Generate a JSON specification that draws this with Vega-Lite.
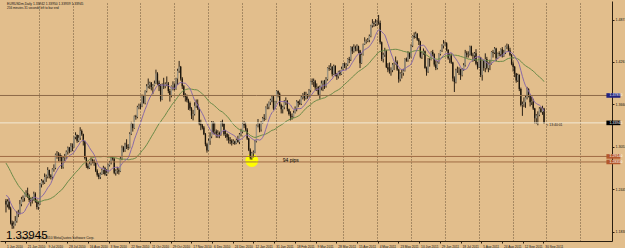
{
"$schema": "https://vega.github.io/schema/vega-lite/v6.json",
"width": 612, "height": 240, "autosize": "none",
"padding": {"left": 0, "top": 1, "right": 13, "bottom": 7},
"background": "#e2be8c",
"config": {"view": {"stroke": null}, "axis": {"labelFont": "Liberation Sans", "labelFontSize": 3.4, "labelColor": "#111111", "domainColor": "#2a1e10", "tickColor": "#2a1e10", "titleFontSize": 0}},
"resolve": {"axis": {"x": "independent"}},
"datasets": {"px": [
{"i":-34,"c":1.3640},{"i":-33,"c":1.3560},{"i":-32,"c":1.3500},{"i":-31,"c":1.3470},{"i":-30,"c":1.3440},{"i":-29,"c":1.3390},{"i":-28,"c":1.3290},{"i":-27,"c":1.3360},{"i":-26,"c":1.3370},{"i":-25,"c":1.3180},{"i":-24,"c":1.3210},{"i":-23,"c":1.3240},{"i":-22,"c":1.3300},{"i":-21,"c":1.3200},{"i":-20,"c":1.2990},{"i":-19,"c":1.2820},{"i":-18,"c":1.2630},{"i":-17,"c":1.2750},{"i":-16,"c":1.2790},{"i":-15,"c":1.2660},{"i":-14,"c":1.2630},{"i":-13,"c":1.2540},{"i":-12,"c":1.2380},{"i":-11,"c":1.2360},{"i":-10,"c":1.2230},{"i":-9,"c":1.2370},{"i":-8,"c":1.2530},{"i":-7,"c":1.2570},{"i":-6,"c":1.2370},{"i":-5,"c":1.2370},{"i":-4,"c":1.2200},{"i":-3,"c":1.2370},{"i":-2,"c":1.2270},{"i":-1,"c":1.2280},
{"i":0,"o":1.2280,"h":1.2305,"l":1.2112,"c":1.2225},
{"i":1,"o":1.2225,"h":1.2300,"l":1.2185,"c":1.2270},
{"i":2,"o":1.2270,"h":1.2315,"l":1.2150,"c":1.2170},
{"i":3,"o":1.2170,"h":1.2195,"l":1.1940,"c":1.1965},
{"i":4,"o":1.1965,"h":1.1995,"l":1.1876,"c":1.1920},
{"i":5,"o":1.1920,"h":1.1985,"l":1.1880,"c":1.1940},
{"i":6,"o":1.1940,"h":1.2060,"l":1.1925,"c":1.1990},
{"i":7,"o":1.1990,"h":1.2130,"l":1.1965,"c":1.2100},
{"i":8,"o":1.2100,"h":1.2150,"l":1.2045,"c":1.2110},
{"i":9,"o":1.2110,"h":1.2290,"l":1.2085,"c":1.2230},
{"i":10,"o":1.2230,"h":1.2335,"l":1.2200,"c":1.2300},
{"i":11,"o":1.2300,"h":1.2355,"l":1.2260,"c":1.2320},
{"i":12,"o":1.2320,"h":1.2395,"l":1.2270,"c":1.2385},
{"i":13,"o":1.2385,"h":1.2430,"l":1.2335,"c":1.2390},
{"i":14,"o":1.2390,"h":1.2467,"l":1.2320,"c":1.2345},
{"i":15,"o":1.2345,"h":1.2370,"l":1.2260,"c":1.2290},
{"i":16,"o":1.2290,"h":1.2320,"l":1.2200,"c":1.2300},
{"i":17,"o":1.2300,"h":1.2335,"l":1.2240,"c":1.2305},
{"i":18,"o":1.2305,"h":1.2410,"l":1.2280,"c":1.2380},
{"i":19,"o":1.2380,"h":1.2400,"l":1.2250,"c":1.2270},
{"i":20,"o":1.2270,"h":1.2300,"l":1.2155,"c":1.2190},
{"i":21,"o":1.2190,"h":1.2270,"l":1.2150,"c":1.2230},
{"i":22,"o":1.2230,"h":1.2535,"l":1.2220,"c":1.2515},
{"i":23,"o":1.2515,"h":1.2590,"l":1.2470,"c":1.2565},
{"i":24,"o":1.2565,"h":1.2580,"l":1.2510,"c":1.2540},
{"i":25,"o":1.2540,"h":1.2670,"l":1.2520,"c":1.2620},
{"i":26,"o":1.2620,"h":1.2655,"l":1.2550,"c":1.2625},
{"i":27,"o":1.2625,"h":1.2760,"l":1.2600,"c":1.2720},
{"i":28,"o":1.2720,"h":1.2725,"l":1.2600,"c":1.2640},
{"i":29,"o":1.2640,"h":1.2660,"l":1.2585,"c":1.2620},
{"i":30,"o":1.2620,"h":1.2745,"l":1.2580,"c":1.2730},
{"i":31,"o":1.2730,"h":1.2800,"l":1.2695,"c":1.2750},
{"i":32,"o":1.2750,"h":1.2955,"l":1.2730,"c":1.2940},
{"i":33,"o":1.2940,"h":1.2990,"l":1.2880,"c":1.2945},
{"i":34,"o":1.2945,"h":1.2975,"l":1.2845,"c":1.2935},
{"i":35,"o":1.2935,"h":1.2960,"l":1.2840,"c":1.2900},
{"i":36,"o":1.2900,"h":1.2930,"l":1.2735,"c":1.2760},
{"i":37,"o":1.2760,"h":1.2915,"l":1.2740,"c":1.2890},
{"i":38,"o":1.2890,"h":1.2950,"l":1.2850,"c":1.2900},
{"i":39,"o":1.2900,"h":1.3000,"l":1.2880,"c":1.2980},
{"i":40,"o":1.2980,"h":1.3055,"l":1.2940,"c":1.3040},
{"i":41,"o":1.3040,"h":1.3050,"l":1.2960,"c":1.2985},
{"i":42,"o":1.2985,"h":1.3105,"l":1.2975,"c":1.3060},
{"i":43,"o":1.3060,"h":1.3100,"l":1.2990,"c":1.3050},
{"i":44,"o":1.3050,"h":1.3200,"l":1.3040,"c":1.3190},
{"i":45,"o":1.3190,"h":1.3260,"l":1.3160,"c":1.3220},
{"i":46,"o":1.3220,"h":1.3230,"l":1.3110,"c":1.3140},
{"i":47,"o":1.3140,"h":1.3220,"l":1.3120,"c":1.3180},
{"i":48,"o":1.3180,"h":1.3333,"l":1.3150,"c":1.3280},
{"i":49,"o":1.3280,"h":1.3300,"l":1.3210,"c":1.3230},
{"i":50,"o":1.3230,"h":1.3240,"l":1.3070,"c":1.3130},
{"i":51,"o":1.3130,"h":1.3140,"l":1.2870,"c":1.2890},
{"i":52,"o":1.2890,"h":1.2905,"l":1.2750,"c":1.2780},
{"i":53,"o":1.2780,"h":1.2815,"l":1.2730,"c":1.2750},
{"i":54,"o":1.2750,"h":1.2840,"l":1.2735,"c":1.2810},
{"i":55,"o":1.2810,"h":1.2900,"l":1.2785,"c":1.2860},
{"i":56,"o":1.2860,"h":1.2880,"l":1.2815,"c":1.2840},
{"i":57,"o":1.2840,"h":1.2870,"l":1.2780,"c":1.2820},
{"i":58,"o":1.2820,"h":1.2830,"l":1.2690,"c":1.2710},
{"i":59,"o":1.2710,"h":1.2730,"l":1.2625,"c":1.2650},
{"i":60,"o":1.2650,"h":1.2675,"l":1.2588,"c":1.2620},
{"i":61,"o":1.2620,"h":1.2685,"l":1.2590,"c":1.2660},
{"i":62,"o":1.2660,"h":1.2740,"l":1.2650,"c":1.2720},
{"i":63,"o":1.2720,"h":1.2780,"l":1.2660,"c":1.2750},
{"i":64,"o":1.2750,"h":1.2765,"l":1.2640,"c":1.2660},
{"i":65,"o":1.2660,"h":1.2730,"l":1.2635,"c":1.2680},
{"i":66,"o":1.2680,"h":1.2810,"l":1.2670,"c":1.2790},
{"i":67,"o":1.2790,"h":1.2850,"l":1.2770,"c":1.2830},
{"i":68,"o":1.2830,"h":1.2920,"l":1.2800,"c":1.2890},
{"i":69,"o":1.2890,"h":1.2915,"l":1.2855,"c":1.2880},
{"i":70,"o":1.2880,"h":1.2890,"l":1.2660,"c":1.2680},
{"i":71,"o":1.2680,"h":1.2730,"l":1.2640,"c":1.2710},
{"i":72,"o":1.2710,"h":1.2765,"l":1.2665,"c":1.2715},
{"i":73,"o":1.2715,"h":1.2745,"l":1.2655,"c":1.2700},
{"i":74,"o":1.2700,"h":1.2905,"l":1.2690,"c":1.2880},
{"i":75,"o":1.2880,"h":1.3070,"l":1.2860,"c":1.3040},
{"i":76,"o":1.3040,"h":1.3060,"l":1.2975,"c":1.3000},
{"i":77,"o":1.3000,"h":1.3110,"l":1.2980,"c":1.3080},
{"i":78,"o":1.3080,"h":1.3160,"l":1.3020,"c":1.3050},
{"i":79,"o":1.3050,"h":1.3090,"l":1.3005,"c":1.3040},
{"i":80,"o":1.3040,"h":1.3260,"l":1.3030,"c":1.3240},
{"i":81,"o":1.3240,"h":1.3410,"l":1.3220,"c":1.3380},
{"i":82,"o":1.3380,"h":1.3390,"l":1.3270,"c":1.3320},
{"i":83,"o":1.3320,"h":1.3500,"l":1.3310,"c":1.3490},
{"i":84,"o":1.3490,"h":1.3510,"l":1.3440,"c":1.3480},
{"i":85,"o":1.3480,"h":1.3640,"l":1.3460,"c":1.3620},
{"i":86,"o":1.3620,"h":1.3670,"l":1.3590,"c":1.3640},
{"i":87,"o":1.3640,"h":1.3670,"l":1.3590,"c":1.3630},
{"i":88,"o":1.3630,"h":1.3800,"l":1.3620,"c":1.3790},
{"i":89,"o":1.3790,"h":1.3795,"l":1.3670,"c":1.3680},
{"i":90,"o":1.3680,"h":1.3860,"l":1.3660,"c":1.3850},
{"i":91,"o":1.3850,"h":1.3950,"l":1.3830,"c":1.3920},
{"i":92,"o":1.3920,"h":1.4030,"l":1.3890,"c":1.3940},
{"i":93,"o":1.3940,"h":1.3985,"l":1.3880,"c":1.3970},
{"i":94,"o":1.3970,"h":1.3980,"l":1.3860,"c":1.3910},
{"i":95,"o":1.3910,"h":1.3950,"l":1.3805,"c":1.3930},
{"i":96,"o":1.3930,"h":1.4000,"l":1.3920,"c":1.3960},
{"i":97,"o":1.3960,"h":1.4157,"l":1.3950,"c":1.4100},
{"i":98,"o":1.4100,"h":1.4120,"l":1.3940,"c":1.3970},
{"i":99,"o":1.3970,"h":1.4000,"l":1.3850,"c":1.3920},
{"i":100,"o":1.3920,"h":1.3950,"l":1.3700,"c":1.3730},
{"i":101,"o":1.3730,"h":1.3960,"l":1.3720,"c":1.3940},
{"i":102,"o":1.3940,"h":1.4040,"l":1.3880,"c":1.3920},
{"i":103,"o":1.3920,"h":1.3975,"l":1.3890,"c":1.3950},
{"i":104,"o":1.3950,"h":1.4060,"l":1.3920,"c":1.3960},
{"i":105,"o":1.3960,"h":1.3980,"l":1.3820,"c":1.3850},
{"i":106,"o":1.3850,"h":1.3880,"l":1.3700,"c":1.3780},
{"i":107,"o":1.3780,"h":1.3930,"l":1.3760,"c":1.3920},
{"i":108,"o":1.3920,"h":1.3990,"l":1.3860,"c":1.3940},
{"i":109,"o":1.3940,"h":1.3960,"l":1.3860,"c":1.3880},
{"i":110,"o":1.3880,"h":1.4040,"l":1.3870,"c":1.4030},
{"i":111,"o":1.4030,"h":1.4170,"l":1.3940,"c":1.4140},
{"i":112,"o":1.4140,"h":1.4282,"l":1.4110,"c":1.4200},
{"i":113,"o":1.4200,"h":1.4210,"l":1.4000,"c":1.4030},
{"i":114,"o":1.4030,"h":1.4050,"l":1.3880,"c":1.3920},
{"i":115,"o":1.3920,"h":1.3935,"l":1.3760,"c":1.3790},
{"i":116,"o":1.3790,"h":1.3820,"l":1.3700,"c":1.3770},
{"i":117,"o":1.3770,"h":1.3800,"l":1.3690,"c":1.3720},
{"i":118,"o":1.3720,"h":1.3740,"l":1.3580,"c":1.3680},
{"i":119,"o":1.3680,"h":1.3700,"l":1.3570,"c":1.3600},
{"i":120,"o":1.3600,"h":1.3620,"l":1.3450,"c":1.3500},
{"i":121,"o":1.3500,"h":1.3580,"l":1.3430,"c":1.3520},
{"i":122,"o":1.3520,"h":1.3690,"l":1.3500,"c":1.3640},
{"i":123,"o":1.3640,"h":1.3730,"l":1.3610,"c":1.3670},
{"i":124,"o":1.3670,"h":1.3730,"l":1.3580,"c":1.3600},
{"i":125,"o":1.3600,"h":1.3610,"l":1.3360,"c":1.3380},
{"i":126,"o":1.3380,"h":1.3440,"l":1.3290,"c":1.3360},
{"i":127,"o":1.3360,"h":1.3380,"l":1.3300,"c":1.3330},
{"i":128,"o":1.3330,"h":1.3350,"l":1.3220,"c":1.3230},
{"i":129,"o":1.3230,"h":1.3250,"l":1.3060,"c":1.3090},
{"i":130,"o":1.3090,"h":1.3110,"l":1.2969,"c":1.3000},
{"i":131,"o":1.3000,"h":1.3170,"l":1.2990,"c":1.3140},
{"i":132,"o":1.3140,"h":1.3260,"l":1.3080,"c":1.3200},
{"i":133,"o":1.3200,"h":1.3420,"l":1.3175,"c":1.3400},
{"i":134,"o":1.3400,"h":1.3420,"l":1.3230,"c":1.3260},
{"i":135,"o":1.3260,"h":1.3400,"l":1.3230,"c":1.3270},
{"i":136,"o":1.3270,"h":1.3300,"l":1.3180,"c":1.3240},
{"i":137,"o":1.3240,"h":1.3290,"l":1.3180,"c":1.3250},
{"i":138,"o":1.3250,"h":1.3270,"l":1.3175,"c":1.3230},
{"i":139,"o":1.3230,"h":1.3420,"l":1.3210,"c":1.3410},
{"i":140,"o":1.3410,"h":1.3440,"l":1.3340,"c":1.3380},
{"i":141,"o":1.3380,"h":1.3390,"l":1.3210,"c":1.3230},
{"i":142,"o":1.3230,"h":1.3290,"l":1.3180,"c":1.3235},
{"i":143,"o":1.3235,"h":1.3250,"l":1.3140,"c":1.3190},
{"i":144,"o":1.3190,"h":1.3230,"l":1.3100,"c":1.3150},
{"i":145,"o":1.3150,"h":1.3190,"l":1.3090,"c":1.3140},
{"i":146,"o":1.3140,"h":1.3160,"l":1.3070,"c":1.3110},
{"i":147,"o":1.3110,"h":1.3160,"l":1.3090,"c":1.3130},
{"i":148,"o":1.3130,"h":1.3140,"l":1.3080,"c":1.3100},
{"i":149,"o":1.3100,"h":1.3170,"l":1.3090,"c":1.3150},
{"i":150,"o":1.3150,"h":1.3210,"l":1.3110,"c":1.3120},
{"i":151,"o":1.3120,"h":1.3250,"l":1.3090,"c":1.3230},
{"i":152,"o":1.3230,"h":1.3310,"l":1.3200,"c":1.3270},
{"i":153,"o":1.3270,"h":1.3400,"l":1.3250,"c":1.3380},
{"i":154,"o":1.3380,"h":1.3420,"l":1.3320,"c":1.3360},
{"i":155,"o":1.3360,"h":1.3400,"l":1.3280,"c":1.3300},
{"i":156,"o":1.3300,"h":1.3320,"l":1.3150,"c":1.3170},
{"i":157,"o":1.3170,"h":1.3180,"l":1.2990,"c":1.3010},
{"i":158,"o":1.3010,"h":1.3030,"l":1.2870,"c":1.2900},
{"i":159,"o":1.2900,"h":1.2980,"l":1.2867,"c":1.2960},
{"i":160,"o":1.2960,"h":1.3000,"l":1.2900,"c":1.2970},
{"i":161,"o":1.2970,"h":1.3150,"l":1.2960,"c":1.3130},
{"i":162,"o":1.3130,"h":1.3370,"l":1.3115,"c":1.3360},
{"i":163,"o":1.3360,"h":1.3450,"l":1.3330,"c":1.3380},
{"i":164,"o":1.3380,"h":1.3390,"l":1.3260,"c":1.3300},
{"i":165,"o":1.3300,"h":1.3420,"l":1.3270,"c":1.3390},
{"i":166,"o":1.3390,"h":1.3480,"l":1.3380,"c":1.3460},
{"i":167,"o":1.3460,"h":1.3520,"l":1.3420,"c":1.3450},
{"i":168,"o":1.3450,"h":1.3630,"l":1.3440,"c":1.3620},
{"i":169,"o":1.3620,"h":1.3670,"l":1.3590,"c":1.3625},
{"i":170,"o":1.3625,"h":1.3700,"l":1.3590,"c":1.3690},
{"i":171,"o":1.3690,"h":1.3740,"l":1.3650,"c":1.3720},
{"i":172,"o":1.3720,"h":1.3790,"l":1.3690,"c":1.3770},
{"i":173,"o":1.3770,"h":1.3790,"l":1.3580,"c":1.3600},
{"i":174,"o":1.3600,"h":1.3710,"l":1.3590,"c":1.3700},
{"i":175,"o":1.3700,"h":1.3860,"l":1.3690,"c":1.3850},
{"i":176,"o":1.3850,"h":1.3860,"l":1.3760,"c":1.3810},
{"i":177,"o":1.3810,"h":1.3830,"l":1.3630,"c":1.3650},
{"i":178,"o":1.3650,"h":1.3670,"l":1.3530,"c":1.3590},
{"i":179,"o":1.3590,"h":1.3640,"l":1.3530,"c":1.3620},
{"i":180,"o":1.3620,"h":1.3720,"l":1.3590,"c":1.3690},
{"i":181,"o":1.3690,"h":1.3760,"l":1.3650,"c":1.3710},
{"i":182,"o":1.3710,"h":1.3720,"l":1.3560,"c":1.3590},
{"i":183,"o":1.3590,"h":1.3600,"l":1.3500,"c":1.3520},
{"i":184,"o":1.3520,"h":1.3560,"l":1.3430,"c":1.3490},
{"i":185,"o":1.3490,"h":1.3530,"l":1.3440,"c":1.3480},
{"i":186,"o":1.3480,"h":1.3570,"l":1.3470,"c":1.3540},
{"i":187,"o":1.3540,"h":1.3630,"l":1.3530,"c":1.3600},
{"i":188,"o":1.3600,"h":1.3720,"l":1.3560,"c":1.3700},
{"i":189,"o":1.3700,"h":1.3710,"l":1.3620,"c":1.3680},
{"i":190,"o":1.3680,"h":1.3730,"l":1.3650,"c":1.3670},
{"i":191,"o":1.3670,"h":1.3780,"l":1.3650,"c":1.3760},
{"i":192,"o":1.3760,"h":1.3820,"l":1.3730,"c":1.3800},
{"i":193,"o":1.3800,"h":1.3840,"l":1.3710,"c":1.3750},
{"i":194,"o":1.3750,"h":1.3840,"l":1.3730,"c":1.3800},
{"i":195,"o":1.3800,"h":1.3810,"l":1.3740,"c":1.3790},
{"i":196,"o":1.3790,"h":1.3880,"l":1.3760,"c":1.3860},
{"i":197,"o":1.3860,"h":1.4000,"l":1.3830,"c":1.3990},
{"i":198,"o":1.3990,"h":1.4030,"l":1.3940,"c":1.3980},
{"i":199,"o":1.3980,"h":1.4030,"l":1.3910,"c":1.3990},
{"i":200,"o":1.3990,"h":1.4010,"l":1.3860,"c":1.3900},
{"i":201,"o":1.3900,"h":1.3960,"l":1.3850,"c":1.3910},
{"i":202,"o":1.3910,"h":1.3920,"l":1.3780,"c":1.3800},
{"i":203,"o":1.3800,"h":1.3930,"l":1.3740,"c":1.3910},
{"i":204,"o":1.3910,"h":1.4000,"l":1.3860,"c":1.3960},
{"i":205,"o":1.3960,"h":1.4000,"l":1.3850,"c":1.3990},
{"i":206,"o":1.3990,"h":1.4010,"l":1.3880,"c":1.3920},
{"i":207,"o":1.3920,"h":1.4050,"l":1.3900,"c":1.4020},
{"i":208,"o":1.4020,"h":1.4190,"l":1.4000,"c":1.4180},
{"i":209,"o":1.4180,"h":1.4220,"l":1.4140,"c":1.4170},
{"i":210,"o":1.4170,"h":1.4250,"l":1.4150,"c":1.4200},
{"i":211,"o":1.4200,"h":1.4210,"l":1.4060,"c":1.4090},
{"i":212,"o":1.4090,"h":1.4230,"l":1.4080,"c":1.4210},
{"i":213,"o":1.4210,"h":1.4220,"l":1.4060,"c":1.4090},
{"i":214,"o":1.4090,"h":1.4110,"l":1.4010,"c":1.4060},
{"i":215,"o":1.4060,"h":1.4140,"l":1.4030,"c":1.4130},
{"i":216,"o":1.4130,"h":1.4150,"l":1.4070,"c":1.4090},
{"i":217,"o":1.4090,"h":1.4200,"l":1.4080,"c":1.4170},
{"i":218,"o":1.4170,"h":1.4250,"l":1.4140,"c":1.4240},
{"i":219,"o":1.4240,"h":1.4260,"l":1.4180,"c":1.4210},
{"i":220,"o":1.4210,"h":1.4250,"l":1.4150,"c":1.4230},
{"i":221,"o":1.4230,"h":1.4320,"l":1.4210,"c":1.4310},
{"i":222,"o":1.4310,"h":1.4340,"l":1.4250,"c":1.4300},
{"i":223,"o":1.4300,"h":1.4490,"l":1.4280,"c":1.4480},
{"i":224,"o":1.4480,"h":1.4490,"l":1.4380,"c":1.4420},
{"i":225,"o":1.4420,"h":1.4520,"l":1.4400,"c":1.4480},
{"i":226,"o":1.4480,"h":1.4500,"l":1.4420,"c":1.4460},
{"i":227,"o":1.4460,"h":1.4520,"l":1.4420,"c":1.4490},
{"i":228,"o":1.4490,"h":1.4500,"l":1.4390,"c":1.4430},
{"i":229,"o":1.4430,"h":1.4440,"l":1.4180,"c":1.4250},
{"i":230,"o":1.4250,"h":1.4390,"l":1.4240,"c":1.4370},
{"i":231,"o":1.4370,"h":1.4530,"l":1.4360,"c":1.4520},
{"i":232,"o":1.4520,"h":1.4620,"l":1.4510,"c":1.4560},
{"i":233,"o":1.4560,"h":1.4590,"l":1.4530,"c":1.4570},
{"i":234,"o":1.4570,"h":1.4610,"l":1.4550,"c":1.4580},
{"i":235,"o":1.4580,"h":1.4660,"l":1.4550,"c":1.4640},
{"i":236,"o":1.4640,"h":1.4800,"l":1.4620,"c":1.4790},
{"i":237,"o":1.4790,"h":1.4880,"l":1.4760,"c":1.4820},
{"i":238,"o":1.4820,"h":1.4850,"l":1.4770,"c":1.4810},
{"i":239,"o":1.4810,"h":1.4880,"l":1.4780,"c":1.4830},
{"i":240,"o":1.4830,"h":1.4870,"l":1.4780,"c":1.4835},
{"i":241,"o":1.4835,"h":1.4940,"l":1.4800,"c":1.4825},
{"i":242,"o":1.4825,"h":1.4860,"l":1.4520,"c":1.4550},
{"i":243,"o":1.4550,"h":1.4560,"l":1.4280,"c":1.4310},
{"i":244,"o":1.4310,"h":1.4400,"l":1.4260,"c":1.4370},
{"i":245,"o":1.4370,"h":1.4470,"l":1.4340,"c":1.4420},
{"i":246,"o":1.4420,"h":1.4440,"l":1.4180,"c":1.4190},
{"i":247,"o":1.4190,"h":1.4250,"l":1.4120,"c":1.4160},
{"i":248,"o":1.4160,"h":1.4260,"l":1.4100,"c":1.4140},
{"i":249,"o":1.4140,"h":1.4190,"l":1.4070,"c":1.4150},
{"i":250,"o":1.4150,"h":1.4250,"l":1.4120,"c":1.4230},
{"i":251,"o":1.4230,"h":1.4260,"l":1.4150,"c":1.4240},
{"i":252,"o":1.4240,"h":1.4345,"l":1.4230,"c":1.4270},
{"i":253,"o":1.4270,"h":1.4290,"l":1.4140,"c":1.4160},
{"i":254,"o":1.4160,"h":1.4170,"l":1.3970,"c":1.4020},
{"i":255,"o":1.4020,"h":1.4120,"l":1.3990,"c":1.4100},
{"i":256,"o":1.4100,"h":1.4160,"l":1.4030,"c":1.4110},
{"i":257,"o":1.4110,"h":1.4170,"l":1.4070,"c":1.4140},
{"i":258,"o":1.4140,"h":1.4320,"l":1.4130,"c":1.4310},
{"i":259,"o":1.4310,"h":1.4330,"l":1.4270,"c":1.4290},
{"i":260,"o":1.4290,"h":1.4420,"l":1.4270,"c":1.4400},
{"i":261,"o":1.4400,"h":1.4410,"l":1.4310,"c":1.4340},
{"i":262,"o":1.4340,"h":1.4520,"l":1.4330,"c":1.4500},
{"i":263,"o":1.4500,"h":1.4650,"l":1.4480,"c":1.4640},
{"i":264,"o":1.4640,"h":1.4690,"l":1.4600,"c":1.4620},
{"i":265,"o":1.4620,"h":1.4700,"l":1.4610,"c":1.4670},
{"i":266,"o":1.4670,"h":1.4680,"l":1.4570,"c":1.4590},
{"i":267,"o":1.4590,"h":1.4610,"l":1.4510,"c":1.4560},
{"i":268,"o":1.4560,"h":1.4570,"l":1.4320,"c":1.4340},
{"i":269,"o":1.4340,"h":1.4410,"l":1.4310,"c":1.4390},
{"i":270,"o":1.4390,"h":1.4460,"l":1.4370,"c":1.4420},
{"i":271,"o":1.4420,"h":1.4430,"l":1.4170,"c":1.4180},
{"i":272,"o":1.4180,"h":1.4200,"l":1.4070,"c":1.4130},
{"i":273,"o":1.4130,"h":1.4320,"l":1.4110,"c":1.4310},
{"i":274,"o":1.4310,"h":1.4320,"l":1.4200,"c":1.4300},
{"i":275,"o":1.4300,"h":1.4420,"l":1.4290,"c":1.4410},
{"i":276,"o":1.4410,"h":1.4440,"l":1.4350,"c":1.4380},
{"i":277,"o":1.4380,"h":1.4390,"l":1.4200,"c":1.4230},
{"i":278,"o":1.4230,"h":1.4290,"l":1.4150,"c":1.4180},
{"i":279,"o":1.4180,"h":1.4280,"l":1.4160,"c":1.4260},
{"i":280,"o":1.4260,"h":1.4390,"l":1.4240,"c":1.4380},
{"i":281,"o":1.4380,"h":1.4440,"l":1.4360,"c":1.4430},
{"i":282,"o":1.4430,"h":1.4520,"l":1.4410,"c":1.4500},
{"i":283,"o":1.4500,"h":1.4580,"l":1.4460,"c":1.4530},
{"i":284,"o":1.4530,"h":1.4560,"l":1.4500,"c":1.4535},
{"i":285,"o":1.4535,"h":1.4550,"l":1.4420,"c":1.4440},
{"i":286,"o":1.4440,"h":1.4450,"l":1.4300,"c":1.4320},
{"i":287,"o":1.4320,"h":1.4390,"l":1.4250,"c":1.4360},
{"i":288,"o":1.4360,"h":1.4390,"l":1.4240,"c":1.4260},
{"i":289,"o":1.4260,"h":1.4270,"l":1.3990,"c":1.4030},
{"i":290,"o":1.4030,"h":1.4060,"l":1.3837,"c":1.3980},
{"i":291,"o":1.3980,"h":1.4170,"l":1.3960,"c":1.4150},
{"i":292,"o":1.4150,"h":1.4200,"l":1.4110,"c":1.4155},
{"i":293,"o":1.4155,"h":1.4190,"l":1.4080,"c":1.4160},
{"i":294,"o":1.4160,"h":1.4170,"l":1.4010,"c":1.4080},
{"i":295,"o":1.4080,"h":1.4180,"l":1.4060,"c":1.4160},
{"i":296,"o":1.4160,"h":1.4250,"l":1.4140,"c":1.4220},
{"i":297,"o":1.4220,"h":1.4440,"l":1.4200,"c":1.4390},
{"i":298,"o":1.4390,"h":1.4420,"l":1.4330,"c":1.4370},
{"i":299,"o":1.4370,"h":1.4420,"l":1.4330,"c":1.4375},
{"i":300,"o":1.4375,"h":1.4500,"l":1.4360,"c":1.4490},
{"i":301,"o":1.4490,"h":1.4500,"l":1.4350,"c":1.4370},
{"i":302,"o":1.4370,"h":1.4400,"l":1.4270,"c":1.4360},
{"i":303,"o":1.4360,"h":1.4410,"l":1.4280,"c":1.4390},
{"i":304,"o":1.4390,"h":1.4450,"l":1.4220,"c":1.4240},
{"i":305,"o":1.4240,"h":1.4270,"l":1.4160,"c":1.4190},
{"i":306,"o":1.4190,"h":1.4350,"l":1.4180,"c":1.4330},
{"i":307,"o":1.4330,"h":1.4340,"l":1.4050,"c":1.4080},
{"i":308,"o":1.4080,"h":1.4290,"l":1.4000,"c":1.4280},
{"i":309,"o":1.4280,"h":1.4300,"l":1.4140,"c":1.4180},
{"i":310,"o":1.4180,"h":1.4390,"l":1.4120,"c":1.4310},
{"i":311,"o":1.4310,"h":1.4340,"l":1.4160,"c":1.4180},
{"i":312,"o":1.4180,"h":1.4260,"l":1.4120,"c":1.4240},
{"i":313,"o":1.4240,"h":1.4300,"l":1.4150,"c":1.4245},
{"i":314,"o":1.4245,"h":1.4420,"l":1.4230,"c":1.4410},
{"i":315,"o":1.4410,"h":1.4440,"l":1.4330,"c":1.4400},
{"i":316,"o":1.4400,"h":1.4480,"l":1.4380,"c":1.4460},
{"i":317,"o":1.4460,"h":1.4470,"l":1.4280,"c":1.4320},
{"i":318,"o":1.4320,"h":1.4400,"l":1.4310,"c":1.4390},
{"i":319,"o":1.4390,"h":1.4420,"l":1.4350,"c":1.4380},
{"i":320,"o":1.4380,"h":1.4460,"l":1.4350,"c":1.4450},
{"i":321,"o":1.4450,"h":1.4480,"l":1.4330,"c":1.4350},
{"i":322,"o":1.4350,"h":1.4440,"l":1.4340,"c":1.4400},
{"i":323,"o":1.4400,"h":1.4500,"l":1.4380,"c":1.4490},
{"i":324,"o":1.4490,"h":1.4530,"l":1.4450,"c":1.4495},
{"i":325,"o":1.4495,"h":1.4520,"l":1.4410,"c":1.4430},
{"i":326,"o":1.4430,"h":1.4470,"l":1.4350,"c":1.4370},
{"i":327,"o":1.4370,"h":1.4380,"l":1.4220,"c":1.4240},
{"i":328,"o":1.4240,"h":1.4270,"l":1.4130,"c":1.4200},
{"i":329,"o":1.4200,"h":1.4210,"l":1.4050,"c":1.4100},
{"i":330,"o":1.4100,"h":1.4110,"l":1.3970,"c":1.4000},
{"i":331,"o":1.4000,"h":1.4100,"l":1.3980,"c":1.4080},
{"i":332,"o":1.4080,"h":1.4090,"l":1.3850,"c":1.3880},
{"i":333,"o":1.3880,"h":1.3900,"l":1.3630,"c":1.3650},
{"i":334,"o":1.3650,"h":1.3700,"l":1.3495,"c":1.3660},
{"i":335,"o":1.3660,"h":1.3760,"l":1.3620,"c":1.3690},
{"i":336,"o":1.3690,"h":1.3790,"l":1.3610,"c":1.3760},
{"i":337,"o":1.3760,"h":1.3910,"l":1.3730,"c":1.3880},
{"i":338,"o":1.3880,"h":1.3890,"l":1.3760,"c":1.3790},
{"i":339,"o":1.3790,"h":1.3795,"l":1.3630,"c":1.3690},
{"i":340,"o":1.3690,"h":1.3770,"l":1.3650,"c":1.3700},
{"i":341,"o":1.3700,"h":1.3740,"l":1.3580,"c":1.3600},
{"i":342,"o":1.3600,"h":1.3610,"l":1.3385,"c":1.3460},
{"i":343,"o":1.3460,"h":1.3520,"l":1.3380,"c":1.3500},
{"i":344,"o":1.3500,"h":1.3560,"l":1.3360,"c":1.3510},
{"i":345,"o":1.3510,"h":1.3620,"l":1.3490,"c":1.3600},
{"i":346,"o":1.3600,"h":1.3620,"l":1.3540,"c":1.3550},
{"i":347,"o":1.3550,"h":1.3640,"l":1.3510,"c":1.3600},
{"i":348,"o":1.3600,"h":1.3610,"l":1.3380,"c":1.33945}
]},
"layer": [
{"data": {"values": [{}]}, "mark": {"type": "point", "filled": true, "color": "#ffff00", "opacity": 1, "size": 170, "clip": true},
 "encoding": {"x": {"datum": 159, "type": "quantitative", "scale": {"domain": [-0.636, 388.72], "nice": false, "zero": false}, "axis": null},
  "y": {"datum": 1.2856, "type": "quantitative", "scale": {"domain": [1.1703, 1.514], "nice": false, "zero": false},
   "axis": {"orient": "right", "title": null, "values": [1.5026,1.4874,1.4722,1.4571,1.4419,1.4267,1.4115,1.3963,1.3812,1.366,1.3508,1.3356,1.3204,1.3053,1.2901,1.2749,1.2597,1.2445,1.2294,1.2142,1.199,1.1838,1.1686], "format": ".5f", "labelFontSize": 3.6, "tickSize": 2, "labelPadding": 1, "labelAlign": "left", "labelBaseline": "middle", "grid": false, "labelOverlap": false, "labelFlush": false, "labelBound": false}}}},
{"data": {"name": "px"}, "transform": [{"filter": "datum.i >= 0"}],
 "mark": {"type": "rule", "color": "#2b2116", "strokeWidth": 1, "clip": true},
 "encoding": {"x": {"field": "i", "type": "quantitative", "axis": {"orient": "top", "values": [21.25,43.14,65.02,86.9,108.79,130.68,152.56,174.45,196.33,218.22,240.1,261.99,283.87,305.76,327.65,349.53,371.42], "grid": true, "gridDash": [1, 2], "gridColor": "#5e4a30", "gridOpacity": 0.9, "labels": false, "ticks": false, "domain": false, "title": null}},
  "y": {"field": "l", "type": "quantitative", "title": null}, "y2": {"field": "h"}}},
{"data": {"name": "px"}, "transform": [{"filter": "datum.i >= 0"}],
 "mark": {"type": "bar", "size": 1.3, "clip": true},
 "encoding": {"x": {"field": "i", "type": "quantitative", "axis": {"orient": "bottom", "title": null, "values": [-0.63,12.756,26.148,39.54,52.932,66.324,79.716,93.108,106.5,119.892,133.284,146.676,160.068,173.46,186.852,200.244,213.636,227.028,240.42,253.812,267.204,280.596,293.988,307.38,320.772,334.164,347.556], "labelExpr": "['1 Jun 2010','21 Jun 2010','9 Jul 2010','28 Jul 2010','16 Aug 2010','3 Sep 2010','22 Sep 2010','11 Oct 2010','29 Oct 2010','17 Nov 2010','6 Dec 2010','24 Dec 2010','12 Jan 2011','31 Jan 2011','18 Feb 2011','9 Mar 2011','28 Mar 2011','15 Apr 2011','4 May 2011','23 May 2011','10 Jun 2011','29 Jun 2011','18 Jul 2011','5 Aug 2011','24 Aug 2011','12 Sep 2011','30 Sep 2011'][round((datum.value + 0.636) / 13.392)]", "labelFontSize": 3.2, "tickSize": 2, "labelPadding": 1.5, "labelAlign": "left", "labelBaseline": "top", "labelOffset": 1.5, "grid": false, "labelOverlap": false, "labelFlush": false, "labelBound": false}},
  "y": {"field": "o", "type": "quantitative", "title": null}, "y2": {"field": "c"},
  "color": {"condition": {"test": "datum.c >= datum.o", "value": "#9d9684"}, "value": "#19130b"}}},
{"data": {"name": "px"}, "transform": [{"window": [{"op": "mean", "field": "c", "as": "ma"}], "frame": [-33, 0], "sort": [{"field": "i"}]}, {"filter": "datum.i >= 0"}],
 "mark": {"type": "line", "color": "#6a8a48", "strokeWidth": 1, "clip": true},
 "encoding": {"x": {"field": "i", "type": "quantitative", "axis": null}, "y": {"field": "ma", "type": "quantitative", "title": null}}},
{"data": {"name": "px"}, "transform": [{"window": [{"op": "mean", "field": "c", "as": "ma"}], "frame": [-9, 0], "sort": [{"field": "i"}]}, {"filter": "datum.i >= 0"}],
 "mark": {"type": "line", "color": "#8a6aa6", "strokeWidth": 1, "clip": true},
 "encoding": {"x": {"field": "i", "type": "quantitative", "axis": null}, "y": {"field": "ma", "type": "quantitative", "title": null}}},
{"data": {"values": [{}]}, "mark": {"type": "rule", "color": "#8c6a48", "strokeWidth": 1}, "encoding": {"y": {"datum": 1.3787, "type": "quantitative", "title": null}}},
{"data": {"values": [{}]}, "mark": {"type": "rule", "color": "#f3ead4", "strokeWidth": 1}, "encoding": {"y": {"datum": 1.33945, "type": "quantitative", "title": null}}},
{"data": {"values": [{}]}, "mark": {"type": "rule", "color": "#a06c44", "strokeWidth": 1}, "encoding": {"y": {"datum": 1.2914, "type": "quantitative", "title": null}}},
{"data": {"values": [{}]}, "mark": {"type": "rule", "color": "#a06c44", "strokeWidth": 1}, "encoding": {"y": {"datum": 1.2835, "type": "quantitative", "title": null}}},
{"data": {"values": [{"p": 1.3787, "k": "a"}, {"p": 1.33945, "k": "b"}, {"p": 1.2914, "k": "c"}, {"p": 1.2835, "k": "c"}]},
 "mark": {"type": "tick", "orient": "horizontal", "thickness": 4.6, "size": 14, "clip": false, "opacity": 1},
 "encoding": {"x": {"datum": 392.86, "type": "quantitative", "axis": null},
  "y": {"field": "p", "type": "quantitative", "title": null},
  "color": {"field": "k", "type": "nominal", "legend": null, "scale": {"domain": ["a", "b", "c"], "range": ["#23237e", "#000000", "#b4582c"]}}}},
{"data": {"values": [{"p": 1.3787, "t": "1.37870"}, {"p": 1.33945, "t": "1.33945"}, {"p": 1.2914, "t": "1.29140"}, {"p": 1.2835, "t": "1.28350"}]},
 "mark": {"type": "text", "clip": false, "align": "left", "baseline": "middle", "fontSize": 3.6, "font": "Liberation Sans", "color": "#ffffff", "dx": 2.5},
 "encoding": {"x": {"datum": 388.72, "type": "quantitative", "axis": null}, "y": {"field": "p", "type": "quantitative", "title": null}, "text": {"field": "t"}}},
{"data": {"values": [{}]}, "mark": {"type": "text", "align": "left", "baseline": "middle", "fontSize": 3.3, "font": "Liberation Sans", "color": "#111111", "text": "EURUSDm,Daily  1.33942 1.33950 1.33939 1.33945"},
 "encoding": {"x": {"datum": 0.7, "type": "quantitative", "axis": null}, "y": {"datum": 1.5097, "type": "quantitative", "title": null}}},
{"data": {"values": [{}]}, "mark": {"type": "text", "align": "left", "baseline": "middle", "fontSize": 3, "font": "Liberation Sans", "color": "#111111", "text": "256 minutes 31 seconds left to bar end"},
 "encoding": {"x": {"datum": 0.7, "type": "quantitative", "axis": null}, "y": {"datum": 1.5045, "type": "quantitative", "title": null}}},
{"data": {"values": [{}]}, "mark": {"type": "text", "align": "left", "baseline": "alphabetic", "fontSize": 3.3, "font": "Liberation Sans", "color": "#111111", "text": "Copyright © 2001-2010 MetaQuotes Software Corp."},
 "encoding": {"x": {"datum": 8, "type": "quantitative", "axis": null}, "y": {"datum": 1.1735, "type": "quantitative", "title": null}}},
{"data": {"values": [{}]}, "mark": {"type": "text", "align": "left", "baseline": "alphabetic", "fontSize": 11.5, "font": "Liberation Sans", "color": "#000000", "text": "1.33945"},
 "encoding": {"x": {"datum": 0, "type": "quantitative", "axis": null}, "y": {"datum": 1.1728, "type": "quantitative", "title": null}}},
{"data": {"values": [{}]}, "mark": {"type": "text", "align": "left", "baseline": "middle", "fontSize": 5, "font": "Liberation Sans", "color": "#000000", "text": "94 pips"},
 "encoding": {"x": {"datum": 179, "type": "quantitative", "axis": null}, "y": {"datum": 1.2856, "type": "quantitative", "title": null}}},
{"data": {"values": [{}]}, "mark": {"type": "text", "align": "left", "baseline": "middle", "fontSize": 3.4, "font": "Liberation Sans", "color": "#111111", "text": "< 13:40:01"},
 "encoding": {"x": {"datum": 349.5, "type": "quantitative", "axis": null}, "y": {"datum": 1.3362, "type": "quantitative", "title": null}}}
]
}
